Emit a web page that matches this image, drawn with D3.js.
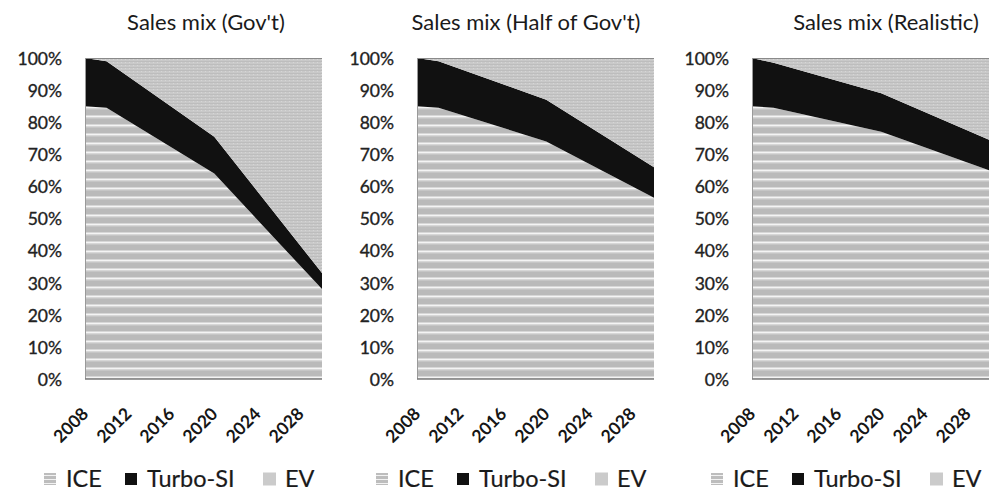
<!DOCTYPE html>
<html><head><meta charset="utf-8">
<script src="https://cdn.jsdelivr.net/npm/d3@7"></script>
<style>
html,body{margin:0;padding:0;background:#fff;}
svg{display:block;}
text{font-family:Lato,"Open Sans",sans-serif;}
</style></head>
<body>
<svg id="c" width="990" height="493"></svg>
<script>
// ---- data ----
const years = [2008, 2010, 2020, 2030];
const tickYears = [2008, 2012, 2016, 2020, 2024, 2028];
const yTicks = [0, 10, 20, 30, 40, 50, 60, 70, 80, 90, 100];
const seriesNames = ["ICE", "Turbo-SI", "EV"];
const titles = ["Sales mix (Gov't)", "Sales mix (Half of Gov't)", "Sales mix (Realistic)"];

const iceGov   = [85, 84.5, 64, 28];
const turboGov = [15, 14.5, 11.5, 5];
const evGov    = [0, 1, 24.5, 67];

const iceHalf   = [85, 84.5, 74, 56.5];
const turboHalf = [15, 14.5, 13, 9.5];
const evHalf    = [0, 1, 13, 34];

const iceReal   = [85, 84.5, 77, 65];
const turboReal = [15, 14, 12, 9.5];
const evReal    = [0, 1.5, 11, 25.5];

const scenarios = [
  {title: titles[0], ice: iceGov,  turbo: turboGov,  ev: evGov},
  {title: titles[1], ice: iceHalf, turbo: turboHalf, ev: evHalf},
  {title: titles[2], ice: iceReal, turbo: turboReal, ev: evReal}
];

// ---- layout ----
const plotLeft = [85, 417, 752];
const plotW = 237;
const plotTop = 58, plotBottom = 379;
const titleDx = [121, 109, 134];

const svg = d3.select("#c");
const defs = svg.append("defs");

// ICE stripes
const pIce = defs.append("pattern").attr("id","pIce").attr("patternUnits","userSpaceOnUse")
  .attr("width",6).attr("height",9).attr("y", plotBottom % 9);
pIce.append("rect").attr("width",6).attr("height",9).attr("fill","#bababa");
pIce.append("rect").attr("y",0).attr("width",6).attr("height",1).attr("fill","#c6c6c6");
pIce.append("rect").attr("y",6.5).attr("width",6).attr("height",2).attr("fill","#f4f4f4");
// EV fine texture
const pEv = defs.append("pattern").attr("id","pEv").attr("patternUnits","userSpaceOnUse")
  .attr("width",4).attr("height",3);
pEv.append("rect").attr("width",4).attr("height",3).attr("fill","#c9c9c9");
pEv.append("rect").attr("y",1).attr("width",4).attr("height",1).attr("fill","#bdbdbd");
pEv.append("rect").attr("x",1).attr("y",2).attr("width",1).attr("height",1).attr("fill","#d6d6d6");
// legend ICE small pattern
const pIceL = defs.append("pattern").attr("id","pIceL").attr("patternUnits","userSpaceOnUse")
  .attr("width",4).attr("height",4);
pIceL.append("rect").attr("width",4).attr("height",4).attr("fill","#bdbdbd");
pIceL.append("rect").attr("y",3).attr("width",4).attr("height",1).attr("fill","#f2f2f2");

const fills = ["url(#pIce)", "#111111", "url(#pEv)"];
const legendFills = ["url(#pIceL)", "#111111", "#cbcbcb"];

scenarios.forEach((sc, i) => {
  const x0 = plotLeft[i];
  const x = d3.scaleLinear().domain([2008, 2030]).range([x0, x0 + plotW]);
  const y = d3.scaleLinear().domain([0, 100]).range([plotBottom, plotTop]);
  const g = svg.append("g");

  const rows = years.map((yr, k) => ({year: yr, ICE: sc.ice[k], "Turbo-SI": sc.turbo[k], EV: sc.ev[k]}));
  const stack = d3.stack().keys(seriesNames)(rows);
  const area = d3.area().x(d => x(d.data.year)).y0(d => y(d[0])).y1(d => y(Math.min(100, d[1])));

  g.selectAll("path.s").data(stack).join("path")
    .attr("class","s")
    .attr("d", (s, j) => j === 2
      ? d3.area().x(d => x(d.data.year)).y0(d => y(d[0])).y1(y(100))(s)
      : area(s))
    .attr("fill", (s, j) => fills[j]);

  // frame lines
  g.append("line").attr("x1", x0).attr("x2", x0 + plotW).attr("y1", plotTop + 0.5).attr("y2", plotTop + 0.5)
    .attr("stroke", "#8a8a8a").attr("stroke-width", 1);
  g.append("line").attr("x1", x0 + 0.5).attr("x2", x0 + 0.5).attr("y1", plotTop).attr("y2", plotBottom)
    .attr("stroke", "#9a9a9a").attr("stroke-width", 1);
  g.append("line").attr("x1", x0).attr("x2", x0 + plotW).attr("y1", plotBottom).attr("y2", plotBottom)
    .attr("stroke", "#7a7a7a").attr("stroke-width", 1.6);

  // y axis
  const ya = d3.axisLeft(y).tickValues(yTicks).tickFormat(d => d + "%").tickSize(0).tickPadding(23);
  const yg = g.append("g").attr("transform", `translate(${x0},0)`).call(ya);
  yg.select(".domain").remove();
  yg.selectAll("text").attr("font-size", 17.5).attr("fill", "#222").attr("dy", "0.36em")
    .attr("stroke", "#222").attr("stroke-width", 0.35);

  // x axis
  const xa = d3.axisBottom(x).tickValues(tickYears).tickFormat(d3.format("d")).tickSize(0).tickPadding(0);
  const xg = g.append("g").attr("transform", `translate(0,${plotBottom})`).call(xa);
  xg.select(".domain").remove();
  xg.selectAll("text").attr("font-size", 17.5).attr("fill", "#161616").attr("font-weight", 700)
    .attr("text-anchor", "end").attr("dy", null).attr("y", 0)
    .attr("transform", "translate(4,36) rotate(-45)");

  // title
  g.append("text").attr("x", x0 + titleDx[i]).attr("y", 30).attr("text-anchor", "middle")
    .attr("font-size", 22).attr("fill", "#1a1a1a")
    .text(sc.title);

  // legend
  const lg = g.append("g").attr("transform", `translate(${x0 - 41},0)`);
  const offs = [0, 81, 219];
  seriesNames.forEach((n, j) => {
    const sz = j === 2 ? 13 : 12;
    lg.append("rect").attr("x", offs[j]).attr("y", 479 - sz / 2).attr("width", sz).attr("height", sz)
      .attr("fill", legendFills[j]);
    lg.append("text").attr("x", offs[j] + 22).attr("y", 487).attr("font-size", 23.5)
      .attr("fill", "#1a1a1a").attr("stroke", "#1a1a1a").attr("stroke-width", 0.2).text(n);
  });
});
</script>
</body></html>
